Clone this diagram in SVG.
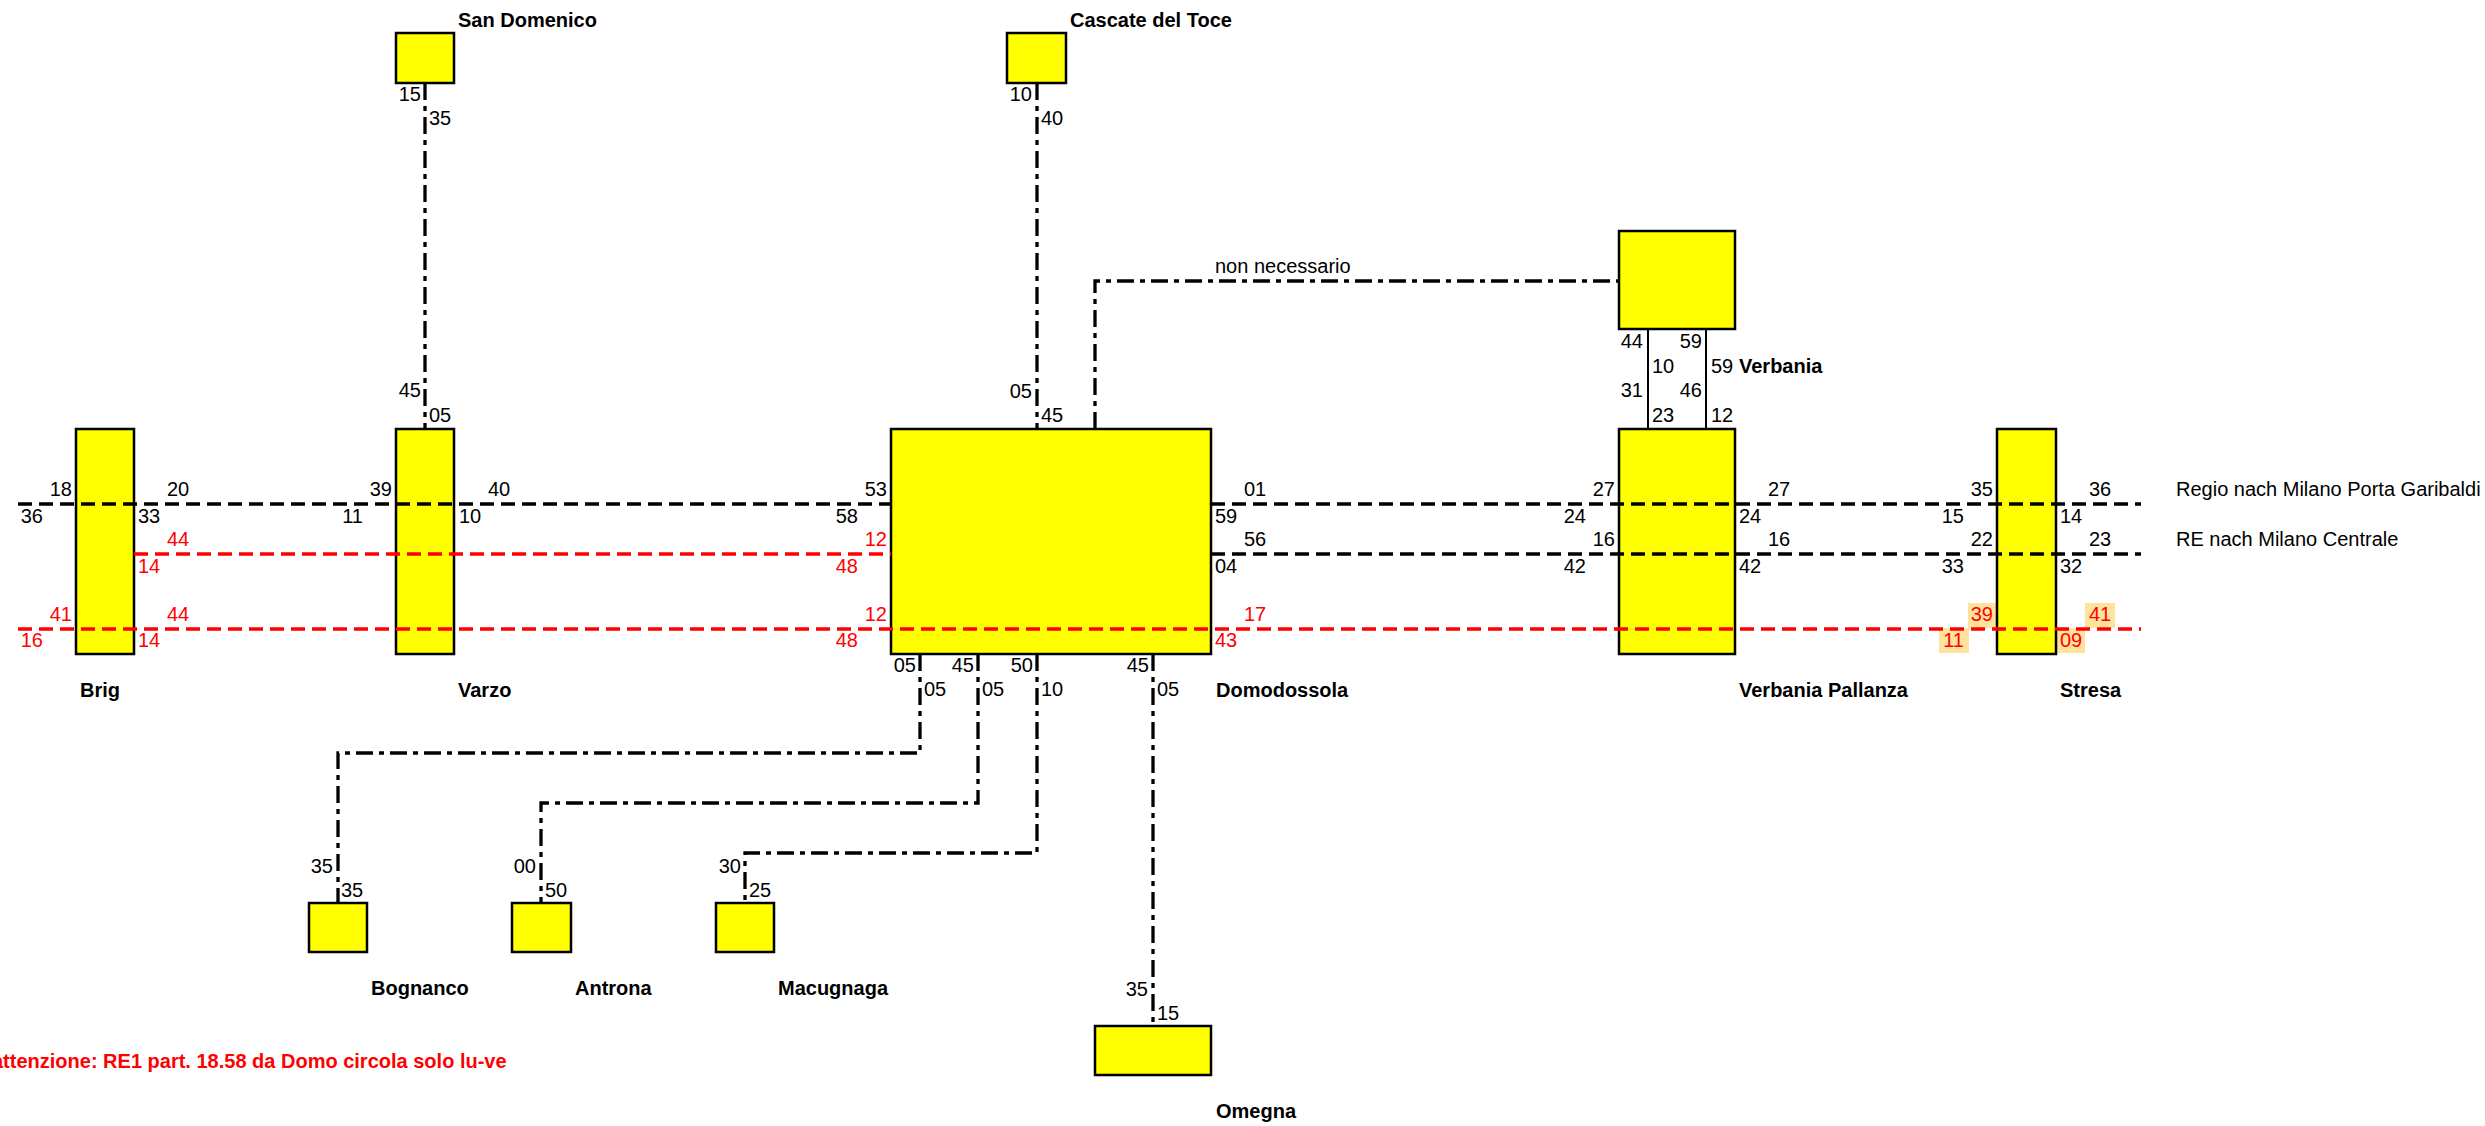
<svg xmlns="http://www.w3.org/2000/svg" width="2485" height="1126" viewBox="0 0 2485 1126">
<style>
.st{fill:#ffff00;stroke:#000;stroke-width:2.5}
.hl{fill:#ffe39c}
text{font-family:"Liberation Sans",Arial,sans-serif;font-size:20px;fill:#000}
.nm{font-weight:bold}
.r{fill:#ff0000}
.e{text-anchor:end}
.dd{fill:none;stroke:#000;stroke-width:3.3;stroke-dasharray:17 6 5 6}
.bk{fill:none;stroke:#000;stroke-width:3.5;stroke-dasharray:14 7}
.rd{fill:none;stroke:#ff0000;stroke-width:3.5;stroke-dasharray:14 7}
.sl{fill:none;stroke:#000;stroke-width:2}
.warn{font-weight:bold;fill:#ff0000}
</style>
<rect width="2485" height="1126" fill="#ffffff"/>

<g id="hl-stresa">
<rect class="hl" x="1968" y="603" width="28" height="25"/>
<rect class="hl" x="1939" y="628" width="30" height="25"/>
<rect class="hl" x="2085" y="603" width="30" height="25"/>
<rect class="hl" x="2057" y="628" width="28" height="25"/>
</g>

<g id="brig">
<rect class="st" x="76" y="429" width="58" height="225"/>
<text class="nm" x="80" y="697">Brig</text>
<text class="e" x="72" y="496">18</text>
<text class="e" x="43" y="523">36</text>
<text x="167" y="496">20</text>
<text x="138" y="523">33</text>
<text class="r" x="167" y="546">44</text>
<text class="r" x="138" y="573">14</text>
<text class="r e" x="72" y="621">41</text>
<text class="r e" x="43" y="647">16</text>
<text class="r" x="167" y="621">44</text>
<text class="r" x="138" y="647">14</text>
</g>

<g id="varzo">
<rect class="st" x="396" y="429" width="58" height="225"/>
<text class="nm" x="458" y="697">Varzo</text>
<text class="e" x="392" y="496">39</text>
<text class="e" x="363" y="523">11</text>
<text x="488" y="496">40</text>
<text x="459" y="523">10</text>
<text class="e" x="421" y="397">45</text>
<text x="429" y="422">05</text>
</g>

<g id="san-domenico">
<rect class="st" x="396" y="33" width="58" height="50"/>
<text class="nm" x="458" y="27">San Domenico</text>
<text class="e" x="421" y="101">15</text>
<text x="429" y="125">35</text>
</g>

<g id="cascate">
<rect class="st" x="1007" y="33" width="59" height="50"/>
<text class="nm" x="1070" y="27">Cascate del Toce</text>
<text class="e" x="1032" y="101">10</text>
<text x="1041" y="125">40</text>
</g>

<g id="domodossola">
<rect class="st" x="891" y="429" width="320" height="225"/>
<text class="nm" x="1216" y="697">Domodossola</text>
<text class="e" x="887" y="496">53</text>
<text class="e" x="858" y="523">58</text>
<text class="r e" x="887" y="546">12</text>
<text class="r e" x="858" y="573">48</text>
<text class="r e" x="887" y="621">12</text>
<text class="r e" x="858" y="647">48</text>
<text x="1244" y="496">01</text>
<text x="1215" y="523">59</text>
<text x="1244" y="546">56</text>
<text x="1215" y="573">04</text>
<text class="r" x="1244" y="621">17</text>
<text class="r" x="1215" y="647">43</text>
<text class="e" x="1032" y="398">05</text>
<text x="1041" y="422">45</text>
<text class="e" x="916" y="672">05</text>
<text x="924" y="696">05</text>
<text class="e" x="974" y="672">45</text>
<text x="982" y="696">05</text>
<text class="e" x="1033" y="672">50</text>
<text x="1041" y="696">10</text>
<text class="e" x="1149" y="672">45</text>
<text x="1157" y="696">05</text>
</g>

<g id="verbania">
<rect class="st" x="1619" y="231" width="116" height="98"/>
<text class="nm" x="1739" y="373">Verbania</text>
<text class="e" x="1643" y="348">44</text>
<text class="e" x="1702" y="348">59</text>
<text x="1652" y="373">10</text>
<text x="1711" y="373">59</text>
<text class="e" x="1643" y="397">31</text>
<text class="e" x="1702" y="397">46</text>
<text x="1652" y="422">23</text>
<text x="1711" y="422">12</text>
</g>

<g id="verbania-pallanza">
<rect class="st" x="1619" y="429" width="116" height="225"/>
<text class="nm" x="1739" y="697">Verbania Pallanza</text>
<text class="e" x="1615" y="496">27</text>
<text class="e" x="1586" y="523">24</text>
<text class="e" x="1615" y="546">16</text>
<text class="e" x="1586" y="573">42</text>
<text x="1768" y="496">27</text>
<text x="1739" y="523">24</text>
<text x="1768" y="546">16</text>
<text x="1739" y="573">42</text>
</g>

<g id="stresa">
<rect class="st" x="1997" y="429" width="59" height="225"/>
<text class="nm" x="2060" y="697">Stresa</text>
<text class="e" x="1993" y="496">35</text>
<text class="e" x="1964" y="523">15</text>
<text class="e" x="1993" y="546">22</text>
<text class="e" x="1964" y="573">33</text>
<text class="r e" x="1993" y="621">39</text>
<text class="r e" x="1964" y="647">11</text>
<text x="2089" y="496">36</text>
<text x="2060" y="523">14</text>
<text x="2089" y="546">23</text>
<text x="2060" y="573">32</text>
<text class="r" x="2089" y="621">41</text>
<text class="r" x="2060" y="647">09</text>
</g>

<g id="bognanco">
<rect class="st" x="309" y="903" width="58" height="49"/>
<text class="nm" x="371" y="995">Bognanco</text>
<text class="e" x="333" y="873">35</text>
<text x="341" y="897">35</text>
</g>

<g id="antrona">
<rect class="st" x="512" y="903" width="59" height="49"/>
<text class="nm" x="575" y="995">Antrona</text>
<text class="e" x="536" y="873">00</text>
<text x="545" y="897">50</text>
</g>

<g id="macugnaga">
<rect class="st" x="716" y="903" width="58" height="49"/>
<text class="nm" x="778" y="995">Macugnaga</text>
<text class="e" x="741" y="873">30</text>
<text x="749" y="897">25</text>
</g>

<g id="omegna">
<rect class="st" x="1095" y="1026" width="116" height="49"/>
<text class="nm" x="1216" y="1118">Omegna</text>
<text class="e" x="1148" y="996">35</text>
<text x="1157" y="1020">15</text>
</g>

<g id="connectors">
<path class="dd" d="M425,83V429"/>
<path class="dd" d="M1037,83V429"/>
<path class="dd" d="M1095,429V281H1619"/>
<path class="dd" d="M920,654V753H338V903"/>
<path class="dd" d="M978,654V803H541V903"/>
<path class="dd" d="M1037,654V853H745V903"/>
<path class="dd" d="M1153,654V1026"/>
<path class="sl" d="M1648,329V429M1706,329V429"/>
<path class="bk" d="M18,504H891M1211,504H2141"/>
<path class="bk" d="M1211,554H2141"/>
<path class="rd" d="M134,554H891"/>
<path class="rd" d="M18,629H2141"/>
<text x="1215" y="273">non necessario</text>
</g>

<g id="legend">
<text x="2176" y="496">Regio nach Milano Porta Garibaldi</text>
<text x="2176" y="546">RE nach Milano Centrale</text>
<text class="warn" x="-8" y="1068">attenzione: RE1 part. 18.58 da Domo circola solo lu-ve</text>
</g>
</svg>
